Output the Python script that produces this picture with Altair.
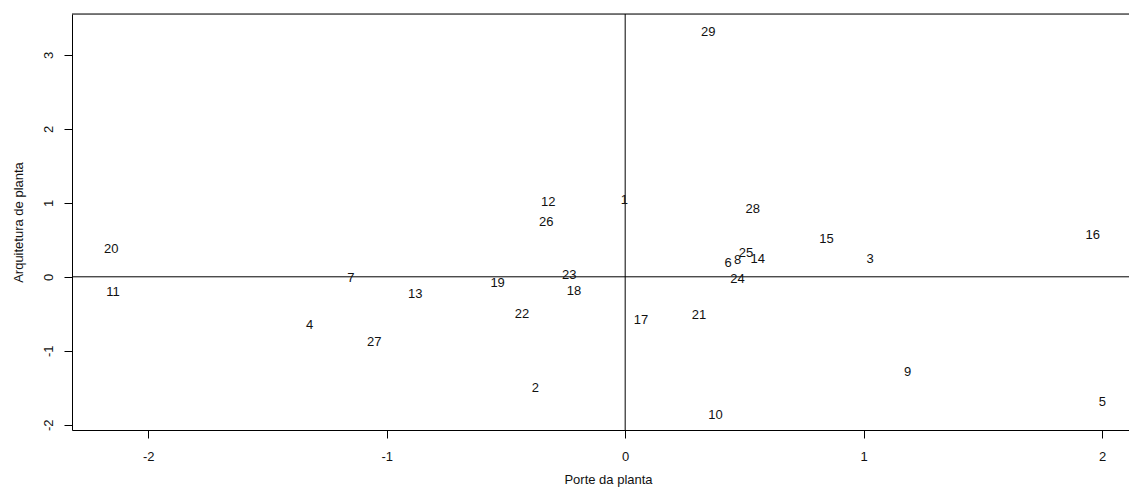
import altair as alt
import pandas as pd

labels = [str(i) for i in range(1, 30)]
porte = [-0.003, -0.377, 1.027, -1.324, 2.001, 0.432, -1.150, 0.472, 1.185, 0.379,
         -2.148, -0.323, -0.880, 0.556, 0.844, 1.961, 0.066, -0.215, -0.535, -2.155,
         0.310, -0.433, -0.235, 0.471, 0.507, -0.331, -1.052, 0.535, 0.348]
arquitetura = [1.038, -1.499, 0.245, -0.651, -1.696, 0.182, -0.020, 0.227, -1.282, -1.872,
               -0.209, 1.007, -0.236, 0.236, 0.507, 0.565, -0.584, -0.192, -0.088, 0.376,
               -0.512, -0.503, 0.020, -0.030, 0.326, 0.745, -0.885, 0.920, 3.308]
x_ticks = [-2, -1, 0, 1, 2]
y_ticks = [-2, -1, 0, 1, 2, 3]

df = pd.DataFrame({"label": labels, "porte": porte, "arq": arquitetura})
zero = pd.DataFrame({"z": [0]})

W, H = 1057, 416
FONT = "Liberation Sans"
xs = alt.Scale(domain=[-2.32, 2.113], nice=False, zero=False)
ys = alt.Scale(domain=[-2.07, 3.551], nice=False, zero=False)

x_axis = alt.Axis(values=x_ticks, grid=False, tickSize=8, labelPadding=12,
                  labelExpr="datum.value + ''",
                  labelFontSize=13, labelFont=FONT, labelColor="#111111",
                  titleFontSize=13, titleFont=FONT, titleColor="#111111",
                  titleFontWeight="normal", titleX=536, titleY=49,
                  titleBaseline="middle", titleAlign="center",
                  domainColor="black", tickColor="black", labelFlush=False)
y_axis = alt.Axis(values=y_ticks, grid=False, tickSize=8, labelPadding=16,
                  labelExpr="datum.value + ''",
                  labelAngle=270, labelAlign="center", labelBaseline="middle",
                  labelFontSize=13, labelFont=FONT, labelColor="#111111",
                  titleFontSize=13, titleFont=FONT, titleColor="#111111",
                  titleFontWeight="normal", titleX=-54, titleY=208,
                  titleAngle=270, titleBaseline="middle", titleAlign="center",
                  domainColor="black", tickColor="black", labelFlush=False)

text = alt.Chart(df).mark_text(fontSize=13, font=FONT, color="#111111",
                               align="center", baseline="middle").encode(
    x=alt.X("porte:Q", scale=xs, axis=x_axis, title="Porte da planta"),
    y=alt.Y("arq:Q", scale=ys, axis=y_axis, title="Arquitetura de planta"),
    text="label:N",
)

vline = alt.Chart(zero).mark_rule(color="black", strokeWidth=1).encode(
    x=alt.X("z:Q", scale=xs)
)
hline = alt.Chart(zero).mark_rule(color="black", strokeWidth=1).encode(
    y=alt.Y("z:Q", scale=ys)
)
top_border = alt.Chart(zero).mark_rule(color="black", strokeWidth=1).encode(
    y=alt.value(0), x=alt.value(0), x2=alt.value(W)
)

chart = alt.layer(vline, hline, top_border, text).properties(
    width=W, height=H,
    autosize=alt.AutoSizeParams(type="none"),
    padding={"left": 64, "top": 6, "right": 0, "bottom": 58},
).configure_view(stroke=None).configure(background="white")

chart.save("out.html", embed_options={"renderer": "svg", "actions": False})
